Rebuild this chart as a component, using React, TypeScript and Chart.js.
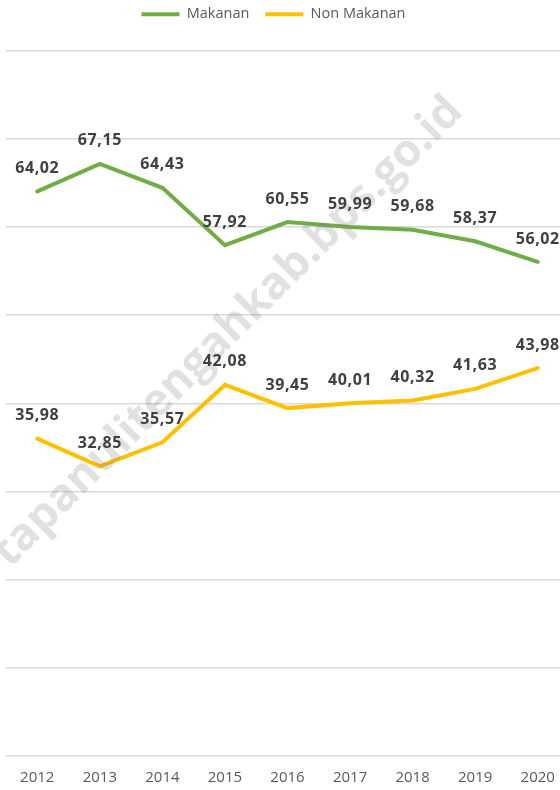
import React, { useEffect, useRef } from 'react';
import { Chart, registerables } from 'chart.js';

Chart.register(...registerables);

const years = ['2012', '2013', '2014', '2015', '2016', '2017', '2018', '2019', '2020'];
const makanan = [64.02, 67.15, 64.43, 57.92, 60.55, 59.99, 59.68, 58.37, 56.02];
const nonMakanan = [35.98, 32.85, 35.57, 42.08, 39.45, 40.01, 40.32, 41.63, 43.98];
const seriesNames = ['Makanan', 'Non Makanan'];
const seriesColors = ['#70AD47', '#FFC000'];
const watermarkText = 'tapanulitengahkab.bps.go.id';

const fmt = (v: number) => v.toFixed(2).replace('.', ',');

const legendShift = {
  id: 'legendShift',
  afterLayout(chart: any) {
    if (chart.legend) {
      chart.legend.left -= 14;
      chart.legend.right -= 14;
      chart.legend.top -= 19;
      chart.legend.bottom -= 19;
    }
  },
};

const overlay = {
  id: 'overlay',
  afterDatasetsDraw(chart: any) {
    const ctx = chart.ctx as CanvasRenderingContext2D;
    // watermark
    ctx.save();
    ctx.translate(228, 332);
    ctx.rotate(-Math.PI / 4);
    ctx.font = 'bold 45px "Open Sans"';
    ctx.fillStyle = 'rgba(120,120,120,0.22)';
    ctx.textAlign = 'center';
    ctx.textBaseline = 'middle';
    ctx.fillText(watermarkText, 0, 0);
    ctx.restore();
    // data labels
    ctx.save();
    ctx.font = 'bold 16px "Open Sans"';
    (ctx as any).letterSpacing = '0.6px';
    ctx.fillStyle = '#404040';
    ctx.textAlign = 'center';
    ctx.textBaseline = 'middle';
    chart.data.datasets.forEach((ds: any, i: number) => {
      const meta = chart.getDatasetMeta(i);
      meta.data.forEach((pt: any, j: number) => {
        ctx.fillText(fmt(ds.data[j]), pt.x, pt.y - 23);
      });
    });
    ctx.restore();
  },
};

export default function App() {
  const ref = useRef<HTMLCanvasElement | null>(null);
  useEffect(() => {
    if (!ref.current) return;
    const chart = new Chart(ref.current, {
      type: 'line',
      data: {
        labels: years,
        datasets: [
          {
            label: seriesNames[0],
            data: makanan,
            borderColor: seriesColors[0],
            backgroundColor: seriesColors[0],
            borderWidth: 4,
            borderCapStyle: 'round',
            pointRadius: 0,
            tension: 0,
          },
          {
            label: seriesNames[1],
            data: nonMakanan,
            borderColor: seriesColors[1],
            backgroundColor: seriesColors[1],
            borderWidth: 4,
            borderCapStyle: 'round',
            pointRadius: 0,
            tension: 0,
          },
        ],
      },
      options: {
        responsive: false,
        animation: false,
        layout: { padding: { left: 6, right: 1, top: 10, bottom: 0 } },
        plugins: {
          legend: {
            position: 'top',
            labels: {
              usePointStyle: true,
              pointStyle: 'line',
              pointStyleWidth: 38,
              boxHeight: 4,
              padding: 16,
              color: '#595959',
              font: { family: '"Open Sans"', size: 14.5 },
            },
          },
          tooltip: { enabled: false },
        },
        scales: {
          x: {
            offset: true,
            grid: { display: false, drawTicks: false },
            border: { display: false },
            ticks: {
              color: '#595959',
              padding: 13,
              font: { family: '"Open Sans"', size: 15 },
            },
          },
          y: {
            min: 0,
            max: 80,
            ticks: { display: false, stepSize: 10 },
            border: { display: false },
            grid: { color: '#d9d9d9', lineWidth: 1.5, drawTicks: false },
          },
        },
      },
      plugins: [legendShift, overlay],
    });
    return () => chart.destroy();
  }, []);
  return (
    <div style={{ position: 'fixed', left: 0, top: 0, width: 560, height: 790, overflow: 'hidden', background: '#fff' }}>
      <canvas ref={ref} width={570} height={800} style={{ width: 570, height: 800, display: 'block' }} />
    </div>
  );
}
